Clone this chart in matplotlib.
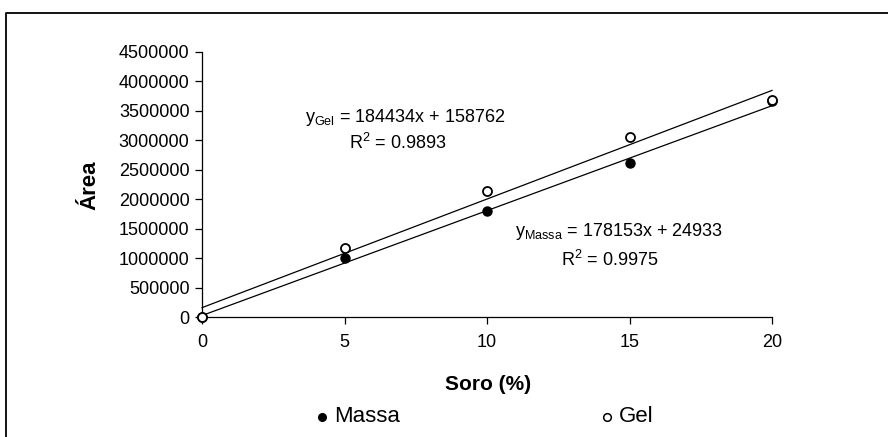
import matplotlib
matplotlib.use("Agg")
import matplotlib.pyplot as plt
from matplotlib.lines import Line2D
import numpy as np

plt.rcParams['font.family'] = ['Liberation Sans', 'DejaVu Sans']

soro = [0, 5, 10, 15, 20]
massa = [0, 1000000, 1800000, 2610000, 3660000]
gel = [0, 1170000, 2140000, 3050000, 3690000]
fit_massa = (178153, 24933, 0.9975)
fit_gel = (184434, 158762, 0.9893)
xticks = [0, 5, 10, 15, 20]
yticks = list(range(0, 4500001, 500000))

fig = plt.figure(figsize=(8.88, 4.37), dpi=100)
ax = fig.add_axes([202/888, 1-317/437, (772-202)/888, (317-52)/437])

xs = np.array([min(soro), max(soro)])
for (m, b, r2) in (fit_massa, fit_gel):
    ax.plot(xs, m*xs + b, color='black', lw=0.9, clip_on=False)

ax.plot(soro, massa, 'o', color='black', ms=6.5, clip_on=False, zorder=5)
ax.plot(soro, gel, 'o', mfc='white', mec='black', mew=1.3, ms=6.5, clip_on=False, zorder=6)

ax.set_xlim(0, 20)
ax.set_ylim(0, 4500000)
ax.set_xticks(xticks)
ax.set_yticks(yticks)
ax.set_xticklabels([str(v) for v in xticks])
ax.set_yticklabels([str(v) for v in yticks])
for s in ('top', 'right'):
    ax.spines[s].set_visible(False)
for s in ('left', 'bottom'):
    ax.spines[s].set_linewidth(0.9)
ax.tick_params(axis='both', direction='out', length=5, width=0.9, labelsize=13, pad=4)
ax.tick_params(axis='x', pad=7)

fig.text(90/888, 1-185/437, 'Área', rotation=90, ha='center', va='center',
         fontsize=16, fontweight='bold')
fig.text(488/888, 1-385/437, 'Soro (%)', ha='center', va='center',
         fontsize=15, fontweight='bold')

fig.text(305/888, 1-117/437,
         r'$\mathregular{y_{Gel}}$' + f' = {fit_gel[0]}x + {fit_gel[1]}',
         ha='left', va='center', fontsize=13)
fig.text(398/888, 1-143/437, r'$\mathregular{R^2}$' + f' = {fit_gel[2]:.4f}',
         ha='center', va='center', fontsize=13)
fig.text(515/888, 1-232/437,
         r'$\mathregular{y_{Massa}}$' + f' = {fit_massa[0]}x + {fit_massa[1]}',
         ha='left', va='center', fontsize=13)
fig.text(610/888, 1-260/437, r'$\mathregular{R^2}$' + f' = {fit_massa[2]:.4f}',
         ha='center', va='center', fontsize=13)

# legend
fig.add_artist(Line2D([322/888], [1-417/437], marker='o', color='black', ms=5.5,
                      ls='none', transform=fig.transFigure))
fig.text(334/888, 1-417/437, 'Massa', ha='left', va='center', fontsize=16)
fig.add_artist(Line2D([607/888], [1-417/437], marker='o', mfc='white', mec='black',
                      mew=1.1, ms=5.5, ls='none', transform=fig.transFigure))
fig.text(619/888, 1-417/437, 'Gel', ha='left', va='center', fontsize=16)

# outer frame
fig.add_artist(Line2D([6/888, 6/888, 1.0], [0.0, 1-13/437, 1-13/437], color='black',
                      lw=1.3, transform=fig.transFigure))

fig.savefig('out.png', dpi=100)
